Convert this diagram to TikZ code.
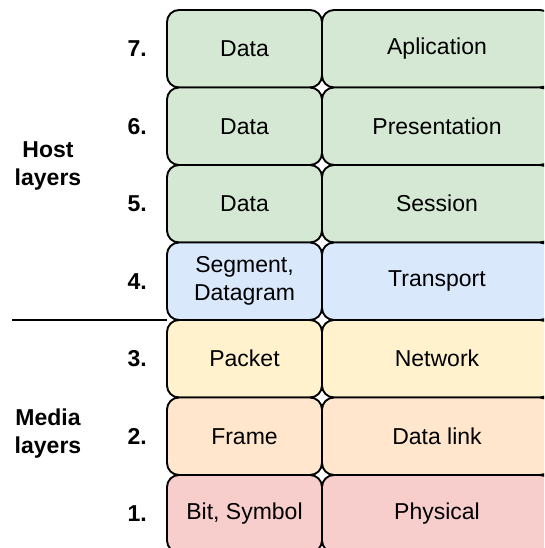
\documentclass[tikz,border=0pt]{standalone}
\usepackage{fontspec}
\setmainfont{Liberation Sans}
\usetikzlibrary{positioning}

\definecolor{appgreen}{HTML}{D5E8D4}
\definecolor{transblue}{HTML}{DAE8FC}
\definecolor{netyellow}{HTML}{FFF2CC}
\definecolor{linkorange}{HTML}{FFE6CC}
\definecolor{physred}{HTML}{F8CECC}

\begin{document}
\begin{tikzpicture}[x=1pt, y=-1pt, font=\fontsize{23}{28}\selectfont,
    cell/.style = {draw, line width=1.9pt, rounded corners=12pt, inner sep=0pt, outer sep=0pt, minimum height=77.5pt, align=center},
    pdu/.style = {cell, minimum width=155pt},
    layer/.style = {cell, minimum width=230pt},
    num/.style = {inner sep=0pt, font=\fontsize{23}{28}\selectfont\bfseries},
    group/.style = {align=center, font=\fontsize{23}{28}\selectfont\bfseries}]
    \clip (0,0) rectangle (544,548);

    % left column: data units
    \node[pdu, fill=appgreen, anchor=north west] (pdu_7) at (167,10) {Data};
    \node[pdu, fill=appgreen] (pdu_6) [below=0pt of pdu_7] {Data};
    \node[pdu, fill=appgreen] (pdu_5) [below=0pt of pdu_6] {Data};
    \node[pdu, fill=transblue] (pdu_4) [below=0pt of pdu_5] {Segment,\\Datagram};
    \node[pdu, fill=netyellow] (pdu_3) [below=0pt of pdu_4] {Packet};
    \node[pdu, fill=linkorange] (pdu_2) [below=0pt of pdu_3] {Frame};
    \node[pdu, fill=physred] (pdu_1) [below=0pt of pdu_2] {Bit, Symbol};

    % right column: layer names
    \node[layer, fill=appgreen] (layer_7) [right=0pt of pdu_7] {Aplication};
    \node[layer, fill=appgreen] (layer_6) [right=0pt of pdu_6] {Presentation};
    \node[layer, fill=appgreen] (layer_5) [right=0pt of pdu_5] {Session};
    \node[layer, fill=transblue] (layer_4) [right=0pt of pdu_4] {Transport};
    \node[layer, fill=netyellow] (layer_3) [right=0pt of pdu_3] {Network};
    \node[layer, fill=linkorange] (layer_2) [right=0pt of pdu_2] {Data link};
    \node[layer, fill=physred] (layer_1) [right=0pt of pdu_1] {Physical};

    % layer numbers
    \node[num] (num_7) [left=20pt of pdu_7] {7.};
    \node[num] (num_6) [left=20pt of pdu_6] {6.};
    \node[num] (num_5) [left=20pt of pdu_5] {5.};
    \node[num] (num_4) [left=20pt of pdu_4] {4.};
    \node[num] (num_3) [left=20pt of pdu_3] {3.};
    \node[num] (num_2) [left=20pt of pdu_2] {2.};
    \node[num] (num_1) [left=20pt of pdu_1] {1.};

    \node[group] (host) at (48,166) {Host\\layers};
    \node[group] (media) at (48,434) {Media\\layers};

    \coordinate (cut) at (12,320);
    \draw[line width=1.5pt] (cut) -- (pdu_3.north west);
\end{tikzpicture}
\end{document}
